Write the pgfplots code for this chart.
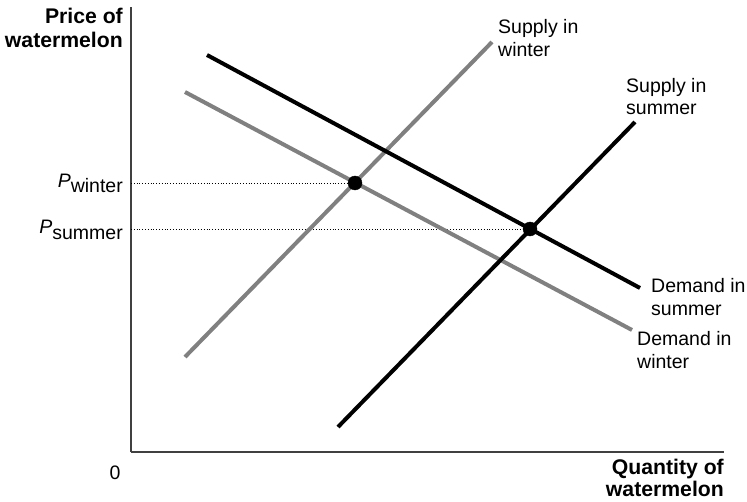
\documentclass[border=0pt]{standalone}
\usepackage{pgfplots}
\pgfplotsset{compat=1.18}
\usepackage{fontspec}
\setmainfont{Liberation Sans}
\definecolor{lgray}{RGB}{128,128,128}
\tikzset{lbl/.style={font=\fontsize{19.5}{22}\selectfont, inner sep=0pt},
         blbl/.style={font=\fontsize{21.2}{24}\selectfont\bfseries, inner sep=0pt}}
\begin{document}
\begin{tikzpicture}[x=1pt,y=1pt]
\begin{axis}[
  width=593pt, height=445pt, scale only axis,
  xmin=131, xmax=724, ymin=49, ymax=494,
  axis x line*=bottom, axis y line*=left,
  axis line style={-, line width=1.4pt, color=black!75},
  ticks=none, clip=false,
]
% bounding box
\path (axis cs:0,0) rectangle (axis cs:747,501);
% dotted guides
\addplot[black, dotted, line width=0.8pt] coordinates {(131,318) (355,318)};
\addplot[black, dotted, line width=0.8pt] coordinates {(131,272) (530,272)};
% Supply in winter
\addplot[lgray, line width=4pt] coordinates {(185,144) (492,459)};
% Demand in winter
\addplot[lgray, line width=4pt] coordinates {(185,409) (632,171)};
% Demand in summer
\addplot[black, line width=4pt] coordinates {(207,446) (640,213)};
% Supply in summer
\addplot[black, line width=4pt] coordinates {(338,74) (635,379)};
% equilibrium points
\addplot[only marks, mark=*, mark size=7pt, black] coordinates {(355,318) (530,272)};
% labels
\node[blbl, anchor=base east] at (axis cs:123,477) {Price of};
\node[blbl, anchor=base east] at (axis cs:123,453) {watermelon};
\node[blbl, anchor=base east] at (axis cs:724,27) {Quantity of};
\node[blbl, anchor=base east] at (axis cs:724,5) {watermelon};
\node[lbl, anchor=base] at (axis cs:115,22) {0};
\node[lbl, anchor=base east] at (axis cs:123,313) {\textit{P}\raisebox{-5pt}{winter}};
\node[lbl, anchor=base east] at (axis cs:123,267) {\textit{P}\raisebox{-5pt}{summer}};
\node[lbl, anchor=base west] at (axis cs:498,467) {Supply in};
\node[lbl, anchor=base west] at (axis cs:498,444) {winter};
\node[lbl, anchor=base west] at (axis cs:626,408) {Supply in};
\node[lbl, anchor=base west] at (axis cs:626,386) {summer};
\node[lbl, anchor=base west] at (axis cs:651,209) {Demand in};
\node[lbl, anchor=base west] at (axis cs:651,186) {summer};
\node[lbl, anchor=base west] at (axis cs:637,156) {Demand in};
\node[lbl, anchor=base west] at (axis cs:637,133) {winter};
\end{axis}
\end{tikzpicture}
\end{document}
